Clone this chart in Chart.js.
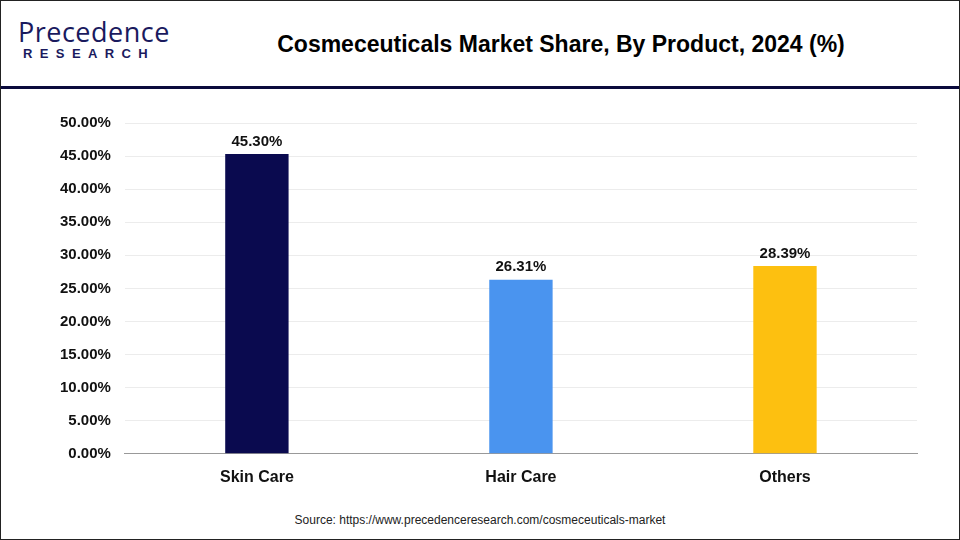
<!DOCTYPE html>
<html><head><meta charset="utf-8">
<script src="https://cdn.jsdelivr.net/npm/chart.js@4/dist/chart.umd.min.js"></script>
<style>
html,body{margin:0;padding:0;background:#fff;}
#wrap{position:relative;width:958px;height:538px;border:1px solid #222;overflow:hidden;font-family:Arial,"Liberation Sans",sans-serif;}
#hdr{position:absolute;left:0;top:0;width:958px;height:85px;border-bottom:3px solid #0a0a3c;}
#logo1{position:absolute;left:17px;top:12px;font-size:27px;color:#1a1a5e;font-family:"Open Sans",Arial;letter-spacing:0.5px;}
#logo2{position:absolute;left:22px;top:45px;font-size:13px;font-weight:bold;color:#1a1a5e;letter-spacing:7.4px;}
#title{position:absolute;left:200px;top:30px;width:720px;text-align:center;font-size:23px;font-weight:bold;color:#000;}
#src{position:absolute;left:0;width:958px;top:512px;text-align:center;font-size:12px;color:#222;}
#c{position:absolute;left:0;top:90px;}
</style></head><body>
<div id="wrap">
<div id="hdr"><div id="logo1">Precedence</div><div id="logo2">RESEARCH</div>
<div id="title">Cosmeceuticals Market Share, By Product, 2024 (%)</div></div>
<canvas id="c" width="958" height="402"></canvas>
<div id="src">Source: https://www.precedenceresearch.com/cosmeceuticals-market</div>
</div>
<script>
const categories=["Skin Care","Hair Care","Others"];
const values=[45.30,26.31,28.39];
const colors=["#0a0a4f","#4a94ef","#fdc010"];
Chart.register({id:'lbl',afterDatasetsDraw(ch){const c=ch.ctx;const m=ch.getDatasetMeta(0);c.save();c.font='bold 15px Arial';c.fillStyle='#111';c.textAlign='center';c.textBaseline='bottom';m.data.forEach((b,i)=>c.fillText(values[i].toFixed(2)+'%',b.x,b.y-5));c.restore();}});
new Chart(document.getElementById('c'),{type:'bar',
data:{labels:categories,datasets:[{data:values,backgroundColor:colors,barPercentage:0.24,categoryPercentage:1}]},
options:{responsive:false,animation:false,layout:{padding:{left:45,right:42,top:32,bottom:0}},
plugins:{legend:{display:false},tooltip:{enabled:false}},
scales:{x:{grid:{display:false},border:{color:'#999'},ticks:{color:'#111',font:{size:16,weight:'bold'},padding:6}},
y:{min:0,max:50,ticks:{stepSize:5,color:'#111',font:{size:15,weight:'bold'},padding:14,callback:v=>v.toFixed(2)+'%'},grid:{color:'#ececec',drawTicks:false},border:{display:false}}}}});
</script>
</body></html>
